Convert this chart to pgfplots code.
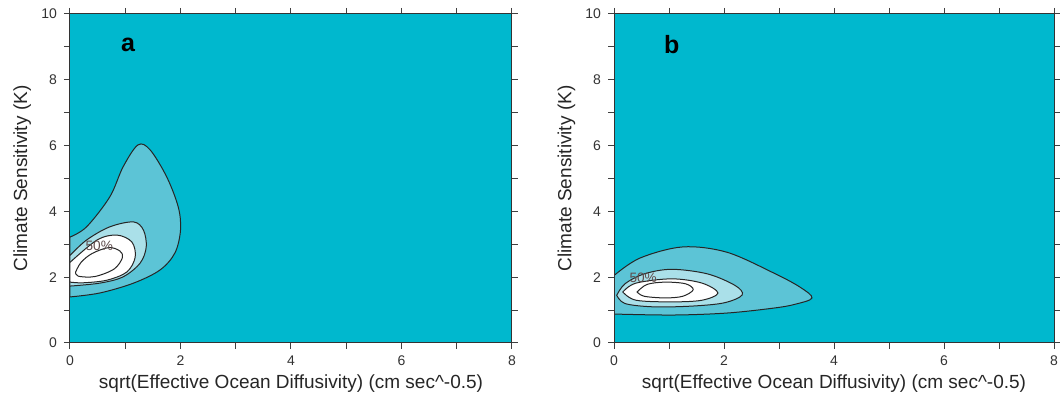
\documentclass[border=0pt]{standalone}
\usepackage{pgfplots}
\pgfplotsset{compat=1.18}
\usepackage{fontspec}
\setmainfont{Liberation Sans}
\definecolor{bgc}{RGB}{0,184,206}
\definecolor{c1}{RGB}{92,196,214}
\definecolor{c2}{RGB}{170,224,233}
\definecolor{lab}{RGB}{95,75,75}
\pgfplotsset{myax/.style={
  scale only axis, height=164.5pt,
  xmin=0,xmax=8,ymin=0,ymax=10,
  xtick={0,2,...,8}, ytick={0,2,...,10},
  minor xtick={1,3,5,7}, minor ytick={1,3,5,7,9},
  tick align=outside, major tick length=3pt, minor tick length=3pt,
  tick style={black!75, line width=0.5pt},
  axis line style={black!80, line width=0.5pt},
  axis background/.style={fill=bgc},
  axis on top,
  tick label style={font=\fontsize{7}{8}\selectfont, text=black!80},
  label style={font=\fontsize{9.5}{11}\selectfont, text=black!85},
  xlabel={sqrt(Effective Ocean Diffusivity) (cm sec\textasciicircum-0.5)},
  ylabel={Climate Sensitivity (K)},
  xlabel style={at={(axis description cs:0.5,-0.122)}, anchor=center},
  ylabel style={at={(axis description cs:-0.108,0.5)}, anchor=center},
  /pgf/number format/assume math mode=true,
  every axis plot/.append style={draw=black!85, line width=0.5pt, smooth, tension=0.55},
}}
\begin{document}
\begin{tikzpicture}
% ---------------- panel a ----------------
\begin{axis}[myax, width=221pt, at={(35pt,31pt)}, anchor=south west]
\addplot[fill=c1] coordinates {(0,3.22) (0.3,3.53) (0.72,4.44) (0.96,5.35) (1.23,6.02) (1.45,5.87) (1.75,5.05) (1.96,4.13) (2.0,3.43) (1.9,2.74) (1.63,2.22) (1.15,1.82) (0.54,1.52) (0,1.40)} -- cycle;
\addplot[fill=c2] coordinates {(0,2.66) (0.3,3.13) (0.72,3.53) (1.15,3.68) (1.33,3.43) (1.38,2.92) (1.27,2.43) (0.96,2.01) (0.54,1.82) (0,1.73)} -- cycle;
\addplot[fill=white] coordinates {(0,2.45) (0.49,3.13) (0.85,3.28) (1.12,3.07) (1.18,2.61) (1.03,2.16) (0.67,1.91) (0.24,1.83) (0,1.85)} -- cycle;
\addplot[fill=white] coordinates {(0.1,2.15) (0.2,2.45) (0.4,2.72) (0.7,2.9) (0.9,2.8) (0.95,2.6) (0.8,2.25) (0.45,2.02) (0.15,2.03) (0.1,2.15)} -- cycle;
\node[font=\fontsize{6.8}{8}\selectfont, text=lab] at (axis cs:0.53,2.95) {50\%};
\node[font=\bfseries\fontsize{12.5}{14}\selectfont] at (axis cs:1.05,9.06) {a};
\end{axis}
% ---------------- panel b ----------------
\begin{axis}[myax, width=220pt, at={(307pt,31pt)}, anchor=south west]
\addplot[fill=c1] coordinates {(0,2.05) (0.47,2.58) (1.25,2.92) (2.05,2.76) (2.9,2.13) (3.38,1.7) (3.6,1.37) (3.3,1.18) (2.9,1.06) (2.05,0.91) (1.07,0.85) (0,0.88)} -- cycle;
\addplot[fill=c2] coordinates {(0.05,1.45) (0.2,1.8) (0.55,2.1) (1.05,2.24) (1.7,2.1) (2.2,1.75) (2.33,1.46) (2.0,1.22) (1.4,1.12) (0.7,1.1) (0.2,1.2) (0.05,1.45)} -- cycle;
\addplot[fill=white] coordinates {(0.16,1.55) (0.4,1.82) (1.05,1.95) (1.6,1.82) (1.89,1.52) (1.6,1.3) (1.05,1.25) (0.4,1.3) (0.16,1.55)} -- cycle;
\addplot[fill=white] coordinates {(0.42,1.55) (0.6,1.78) (0.93,1.85) (1.3,1.8) (1.44,1.62) (1.25,1.42) (0.93,1.37) (0.55,1.42) (0.42,1.55)} -- cycle;
\node[font=\fontsize{6.8}{8}\selectfont, text=lab] at (axis cs:0.53,1.98) {50\%};
\node[font=\bfseries\fontsize{12.5}{14}\selectfont] at (axis cs:1.05,9.06) {b};
\end{axis}
\pgfresetboundingbox
\useasboundingbox (0,0) rectangle (530pt,202.5pt);
\end{tikzpicture}
\end{document}
